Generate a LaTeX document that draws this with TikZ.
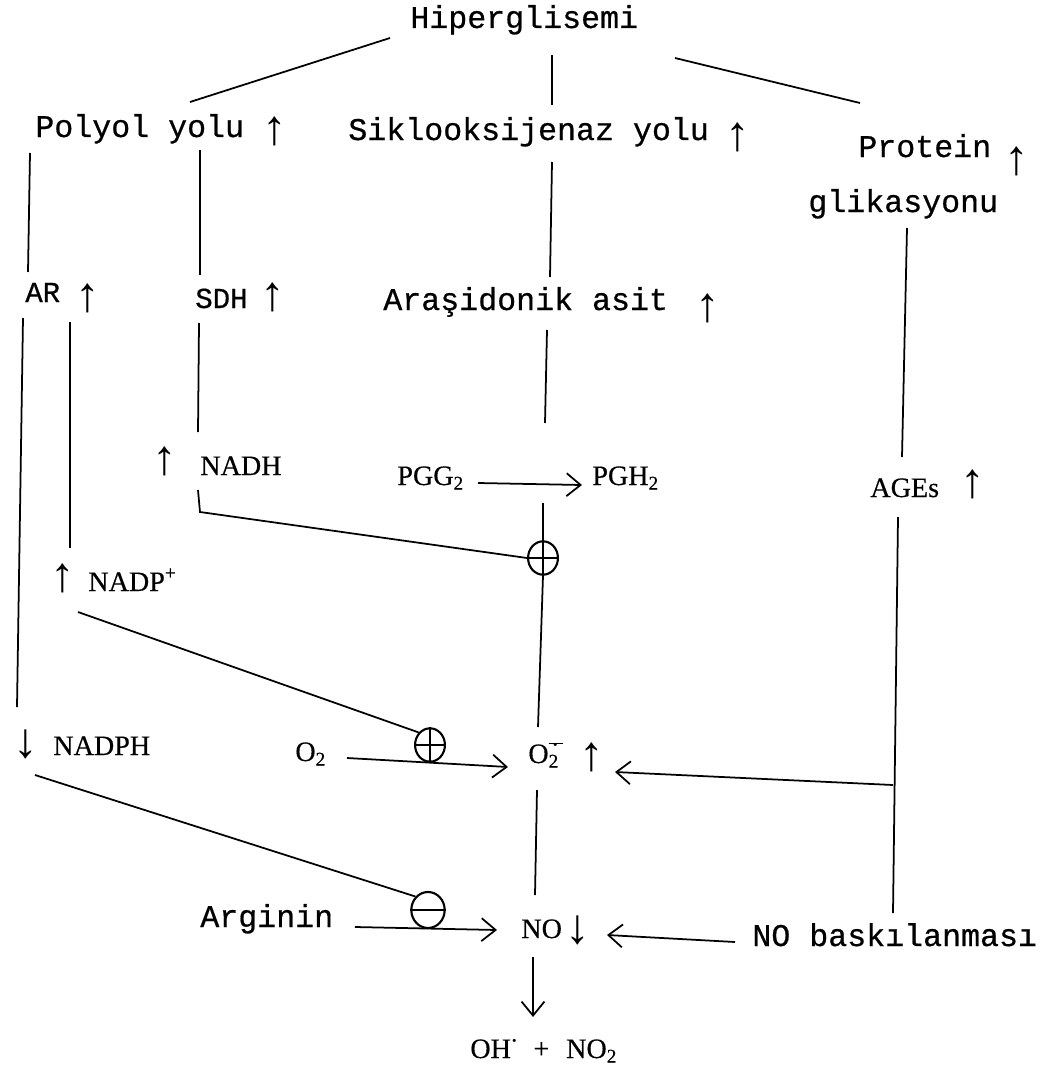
\documentclass[tikz,border=0pt]{standalone}
\usepackage{fontspec}
\usetikzlibrary{arrows.meta,shapes.geometric}
\newfontfamily\twfont[FakeBold=0.6]{Liberation Mono}
\newfontfamily\srfont[FakeBold=0.4]{Liberation Serif}
\newfontfamily\glfont{Liberation Serif}
\newcommand\mysub[1]{\raisebox{-0.35ex}{\fontsize{11}{11}\selectfont #1}}
\newcommand\mysup[1]{\raisebox{0.9ex}{\fontsize{11}{11}\selectfont #1}}
\newcommand\radsup{\rlap{\raisebox{1.45ex}{\rule{0.5em}{1pt}}}\raisebox{0.85ex}{\makebox[0.5em]{\fontsize{18}{18}\selectfont$\cdot$}}}
\begin{document}
\begin{tikzpicture}[x=0.02cm,y=-0.02cm,
  tw/.style={inner sep=0pt, anchor=base west, font=\twfont\fontsize{18}{18}\selectfont},
  twsm/.style={inner sep=0pt, anchor=base west, font=\twfont\fontsize{16.5}{16.5}\selectfont},
  sr/.style={inner sep=0pt, anchor=base west, font=\srfont\fontsize{16}{16}\selectfont},
  glyph/.style={inner sep=0pt, anchor=center, font=\glfont\fontsize{28}{28}\selectfont},
  ln/.style={line width=1pt},
  arw/.style={line width=1pt,-{Straight Barb[length=8pt,width=13pt,line width=1pt]}},
  sign/.style={draw, ellipse, line width=1.2pt, inner sep=0pt}]
\useasboundingbox[fill=white] (0,0) rectangle (1048,1075);

% texts
\node[tw] (hip) at (410,28) {Hiperglisemi};
\node[tw] (polyol) at (35,137) {Polyol yolu};
\node[glyph] (polyolA) at (275,131) {↑};
\node[tw] (sik) at (348,140) {Siklooksijenaz yolu};
\node[glyph] (sikA) at (738,137) {↑};
\node[tw] (prot) at (858,157) {Protein};
\node[glyph] (protA) at (1017,161) {↑};
\node[tw] (glik) at (808,212) {glikasyonu};
\node[twsm] (ar) at (25,302) {AR};
\node[glyph] (arA) at (88,298) {↑};
\node[twsm] (sdh) at (195,308) {SDH};
\node[glyph] (sdhA) at (273,297) {↑};
\node[tw] (aras) at (383,310) {Araşidonik asit};
\node[glyph] (arasA) at (708,308) {↑};
\node[glyph] (nadhA) at (165,461) {↑};
\node[sr] (nadh) at (200,475) {NADH};
\node[sr] (pgg) at (397,485) {PGG\mysub{2}};
\node[sr] (pgh) at (592,485) {PGH\mysub{2}};
\node[sr] (ages) at (870,497) {AGEs};
\node[glyph] (agesA) at (973,484) {↑};
\node[glyph] (nadpA) at (63,578) {↑};
\node[sr] (nadp) at (88,591) {NADP\mysup{+}};
\node[glyph] (nadphA) at (26,744) {↓};
\node[sr] (nadph) at (53,755) {NADPH};
\node[sr] (o2) at (295,761) {O\mysub{2}};
\node[sr] (sup) at (528,763) {O\rlap{\mysub{2}}\radsup};
\node[glyph] (supA) at (592,757) {↑};
\node[tw] (arg) at (200,927) {Arginin};
\node[sr] (no) at (521,938) {NO};
\node[glyph] (noA) at (578,930) {↓};
\node[tw] (nob) at (752,946) {NO baskılanması};
\node[sr] (oh) at (470,1058) {OH\raisebox{0.75ex}{\fontsize{18}{18}\selectfont$\cdot$}\hspace{0.5em}+\hspace{0.6em}NO\mysub{2}};

% sign circles
\node[sign, minimum width=17pt, minimum height=19pt] (p1) at (543,558) {};
\node[sign, minimum width=17pt, minimum height=19pt] (p2) at (430,745) {};
\node[sign, minimum width=19pt, minimum height=20.5pt] (m1) at (428,910) {};
\draw[line width=1.2pt] (p1.north) -- (p1.south) (p1.west) -- (p1.east);
\draw[line width=1.2pt] (p2.north) -- (p2.south) (p2.west) -- (p2.east);
\draw[line width=1.2pt] (m1.west) -- (m1.east);

% connector end points
\coordinate (h1) at (390,38);   \coordinate (pl1) at (190,102);
\coordinate (h2) at (552,55);   \coordinate (sk1) at (552,105);
\coordinate (h3) at (675,58);   \coordinate (pr1) at (860,103);
\coordinate (pl2) at (30,153);  \coordinate (ar1) at (28,272);
\coordinate (pl3) at (200,150); \coordinate (sd1) at (200,275);
\coordinate (sk2) at (552,162); \coordinate (as1) at (550,277);
\coordinate (gl1) at (907,228); \coordinate (ag1) at (902,457);
\coordinate (ar2) at (23,318);  \coordinate (np1) at (17,707);
\coordinate (ar3) at (70,322);  \coordinate (nd1) at (70,548);
\coordinate (sd2) at (199,323); \coordinate (nh1) at (198,432);
\coordinate (as2) at (547,330); \coordinate (as3) at (545,423);
\coordinate (pg1) at (478,483); \coordinate (pg2) at (582,485);
\coordinate (nh2) at (198,490); \coordinate (nh3) at (200,512);
\coordinate (ph1) at (543,503); \coordinate (su1) at (538,727);
\coordinate (nd2) at (78,612);
\coordinate (ox1) at (347,758); \coordinate (su2) at (508,767);
\coordinate (ag2) at (898,517); \coordinate (nb1) at (893,913);
\coordinate (br1) at (893,785); \coordinate (su3) at (615,772);
\coordinate (su4) at (537,790); \coordinate (no1) at (535,895);
\coordinate (nph1) at (35,775);
\coordinate (rg1) at (355,927); \coordinate (no2) at (497,930);
\coordinate (nb2) at (735,942); \coordinate (no3) at (607,935);
\coordinate (no4) at (533,957); \coordinate (oh1) at (533,1017);

% connectors
\draw[ln] (h1) -- (pl1);
\draw[ln] (h2) -- (sk1);
\draw[ln] (h3) -- (pr1);
\draw[ln] (pl2) -- (ar1);
\draw[ln] (pl3) -- (sd1);
\draw[ln] (sk2) -- (as1);
\draw[ln] (gl1) -- (ag1);
\draw[ln] (ar2) -- (np1);
\draw[ln] (ar3) -- (nd1);
\draw[ln] (sd2) -- (nh1);
\draw[ln] (as2) -- (as3);
\draw[arw] (pg1) -- (pg2);
\draw[ln] (nh2) -- (nh3) -- (p1.west);
\draw[ln] (ph1) -- (p1.north);
\draw[ln] (p1.south) -- (su1);
\draw[ln] (nd2) -- (p2.north west);
\draw[arw] (ox1) -- (su2);
\draw[ln] (ag2) -- (nb1);
\draw[arw] (br1) -- (su3);
\draw[ln] (su4) -- (no1);
\draw[ln] (nph1) -- (m1.north west);
\draw[arw] (rg1) -- (no2);
\draw[arw] (nb2) -- (no3);
\draw[arw] (no4) -- (oh1);
\end{tikzpicture}
\end{document}
